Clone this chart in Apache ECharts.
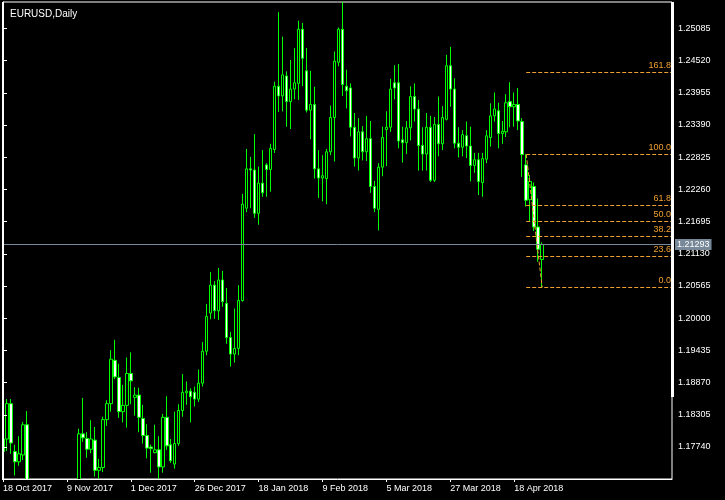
<!DOCTYPE html>
<html>
<head>
<meta charset="utf-8">
<script src="https://cdn.jsdelivr.net/npm/echarts@6/dist/echarts.min.js"></script>
<style>
html,body{margin:0;padding:0;background:#000;}
#chart{width:725px;height:500px;}
</style>
</head>
<body>
<div id="chart"></div>
<script>
// ---- data (EURUSD daily, one entry per trading day from 18 Oct 2017) ----
const startDate = '2017-10-18';
const holidays = ['2017-12-25', '2018-01-01'];
const opens = [1.1766,1.1788,1.1850,1.1766,1.1748,1.1760,1.1813,1.1654,1.1608,1.1647,1.1646,1.1620,1.1656,1.1607,1.1610,1.1596,1.1590,1.1643,1.1664,
 1.1664,1.1797,1.1789,1.1770,1.1786,1.1733,1.1738,1.1822,1.1850,1.1926,1.1896,1.1836,1.1847,1.1903,1.1861,1.1865,1.1824,1.1794,1.1774,1.1764,1.1769,
 1.1739,1.1826,1.1778,1.1744,1.1780,1.1838,1.1869,1.1872,1.1870,1.1858,1.1886,1.1942,1.2009,1.2058,1.2013,1.2067,1.2026,1.1966,1.1937,1.1947,
 1.2031,1.2193,1.2262,1.2260,1.2184,1.2237,1.2269,1.2261,1.2296,1.2407,1.2390,1.2425,1.2380,1.2402,1.2412,1.2507,1.2434,1.2365,1.2375,1.2262,
 1.2246,1.2245,1.2292,1.2352,1.2449,1.2507,1.2407,1.2404,1.2335,1.2281,1.2327,1.2292,1.2315,1.2231,1.2191,1.2265,1.2331,1.2335,1.2413,1.2413,
 1.2313,1.2308,1.2334,1.2389,1.2367,1.2303,1.2288,1.2335,1.2242,1.2340,1.2306,1.2349,1.2443,1.2402,1.2307,1.2300,1.2320,1.2302,1.2268,1.2278,
 1.2238,1.2279,1.2317,1.2355,1.2364,1.2324,1.2327,1.2380,1.2371,1.2375,1.2345,1.2269,1.2208,1.2231,1.2160,1.2103];
const highs = [1.1790,1.1858,1.1858,1.1778,1.1793,1.1818,1.1837,1.1660,1.1668,1.1669,1.1669,1.1688,1.1688,1.1616,1.1614,1.1617,1.1654,1.1670,1.1672,
 1.1806,1.1860,1.1800,1.1821,1.1809,1.1753,1.1827,1.1856,1.1944,1.1962,1.1920,1.1883,1.1931,1.1940,1.1879,1.1878,1.1848,1.1814,1.1778,1.1813,1.1793,
 1.1832,1.1863,1.1788,1.1836,1.1849,1.1902,1.1889,1.1877,1.1880,1.1910,1.1958,1.2025,1.2081,1.2065,1.2088,1.2083,1.2053,1.1976,1.2017,1.2058,
 1.2218,1.2297,1.2283,1.2323,1.2266,1.2295,1.2272,1.2306,1.2415,1.2537,1.2494,1.2433,1.2453,1.2474,1.2522,1.2518,1.2474,1.2434,1.2406,1.2295,
 1.2286,1.2297,1.2373,1.2468,1.2510,1.2555,1.2436,1.2412,1.2360,1.2351,1.2337,1.2355,1.2346,1.2241,1.2272,1.2336,1.2363,1.2420,1.2444,1.2446,
 1.2336,1.2346,1.2407,1.2412,1.2383,1.2335,1.2360,1.2355,1.2353,1.2389,1.2372,1.2462,1.2476,1.2421,1.2335,1.2330,1.2345,1.2336,1.2290,1.2290,
 1.2290,1.2330,1.2377,1.2396,1.2378,1.2346,1.2393,1.2414,1.2396,1.2404,1.2351,1.22876,1.2251,1.2238,1.2210,1.2133];
const lows = [1.1762,1.1767,1.1762,1.1724,1.1741,1.1751,1.1641,1.1574,1.1605,1.1623,1.1606,1.1615,1.1603,1.1555,1.1553,1.1574,1.1585,1.1628,1.1630,
 1.1650,1.1783,1.1755,1.1763,1.1722,1.1712,1.1730,1.1811,1.1836,1.1893,1.1825,1.1817,1.1808,1.1849,1.1829,1.1800,1.1780,1.1754,1.1729,1.1763,1.1717,
 1.1729,1.1769,1.1746,1.1736,1.1776,1.1827,1.1848,1.1817,1.1845,1.1853,1.1880,1.1935,1.1998,1.1999,1.1997,1.2020,1.1955,1.1915,1.1922,1.1935,
 1.2029,1.2186,1.2193,1.2176,1.2164,1.2213,1.2213,1.2222,1.2290,1.2362,1.2363,1.2336,1.2332,1.2384,1.2383,1.2407,1.2361,1.2314,1.2245,1.2211,
 1.2205,1.2200,1.2286,1.2275,1.2442,1.2390,1.2368,1.2319,1.2266,1.2259,1.2277,1.2276,1.2220,1.2186,1.2154,1.2249,1.2267,1.2327,1.2384,1.2298,
 1.2273,1.2288,1.2312,1.2345,1.2259,1.2259,1.2259,1.2239,1.2239,1.2284,1.2295,1.2347,1.2371,1.2298,1.2282,1.2284,1.2281,1.2240,1.2255,1.2216,
 1.2213,1.2272,1.2301,1.2345,1.2298,1.2306,1.2318,1.2335,1.2336,1.2330,1.2248,1.2196,1.2170,1.2153,1.2099,1.20542];
const closes = [1.1788,1.1850,1.1781,1.1748,1.1762,1.1813,1.1654,1.1608,1.1647,1.1646,1.1620,1.1656,1.1607,1.1610,1.1596,1.1590,1.1643,1.1664,1.1664,
 1.1797,1.1790,1.1770,1.1788,1.1733,1.1738,1.1822,1.1850,1.1928,1.1897,1.1836,1.1847,1.1903,1.1890,1.1865,1.1826,1.1794,1.1772,1.1771,1.1769,1.1739,
 1.1826,1.1776,1.1750,1.1780,1.1838,1.1870,1.1872,1.1862,1.1858,1.1886,1.1942,1.2003,1.2058,1.2013,1.2067,1.2029,1.1966,1.1937,1.1947,1.2031,
 1.2200,1.2262,1.2260,1.2184,1.2237,1.2220,1.2261,1.2298,1.2407,1.2390,1.2427,1.2380,1.2402,1.2413,1.2507,1.2456,1.2365,1.2375,1.2262,1.2246,
 1.2250,1.2292,1.2352,1.2451,1.2507,1.2410,1.2399,1.2335,1.2281,1.2327,1.2292,1.2315,1.2231,1.2193,1.2265,1.2317,1.2335,1.2402,1.2404,1.2311,
 1.2308,1.2334,1.2389,1.2367,1.2303,1.2288,1.2335,1.2242,1.2340,1.2306,1.2352,1.2443,1.2402,1.2307,1.2300,1.2322,1.2302,1.2268,1.2278,1.2240,
 1.2280,1.2320,1.2355,1.2367,1.2324,1.2328,1.2378,1.2371,1.2375,1.2346,1.2287,1.2207,1.2240,1.2160,1.2121,1.21293];
const yTicks = [1.17740,1.18305,1.18870,1.19435,1.20000,1.20565,1.21130,1.21695,1.22260,1.22825,1.23390,1.23955,1.24520,1.25085];
const fibRatios = [0, 0.236, 0.382, 0.5, 0.618, 1, 1.618];
const fibFromBar = 131;   // swing high bar
const fibToBar = 135;     // swing low bar
const xLabelStep = 16;
const months = ['Jan','Feb','Mar','Apr','May','Jun','Jul','Aug','Sep','Oct','Nov','Dec'];

// ---- build trading-day calendar ----
const dates = [];
(function(){
  let d = new Date(startDate + 'T00:00:00Z');
  while (dates.length < opens.length) {
    const wd = d.getUTCDay();
    const iso = d.toISOString().slice(0,10);
    if (wd !== 0 && wd !== 6 && holidays.indexOf(iso) < 0) dates.push(new Date(d.getTime()));
    d.setUTCDate(d.getUTCDate() + 1);
  }
})();
function fmtDate(d){ return d.getUTCDate() + ' ' + months[d.getUTCMonth()] + ' ' + d.getUTCFullYear(); }

const candles = opens.map((o,i) => [i, o, closes[i], lows[i], highs[i]]);
const xTickIdx = [];
for (let i = 0; i < opens.length; i += xLabelStep) xTickIdx.push(i);

const fibHigh = highs[fibFromBar];
const fibLow = lows[fibToBar];
const lastClose = closes[closes.length - 1];

const X_MAX = 167.5;   // visible bar slots incl. right-hand chart shift
const Y_MIN = 1.17178, Y_MAX = 1.25548;
const FIB_COLOR = '#F0A030';
const FONT = 'Liberation Sans';

const fibLines = fibRatios.map(r => {
  const lvl = fibLow + r * (fibHigh - fibLow);
  return [
    { coord: [fibFromBar, lvl], label: { formatter: (r * 100).toFixed(1) } },
    { coord: [X_MAX, lvl] }
  ];
});

const chart = echarts.init(document.getElementById('chart'), null, {renderer: 'canvas'});
chart.setOption({
  backgroundColor: '#000',
  animation: false,
  title: {
    text: 'EURUSD,Daily', left: 5, top: 4,
    textStyle: { color: '#fff', fontSize: 10, fontWeight: 'normal', fontFamily: FONT }
  },
  grid: { left: 2, top: 2, right: 53, bottom: 21, show: true, borderColor: '#fff', borderWidth: 1, backgroundColor: '#000' },
  xAxis: {
    type: 'value', min: 0, max: X_MAX, z: 20,
    axisLine: { show: true, lineStyle: { color: '#fff', width: 1 } },
    axisTick: { show: true, length: 3, lineStyle: { color: '#fff' }, customValues: xTickIdx },
    axisLabel: {
      show: true, customValues: xTickIdx, align: 'left', margin: 5,
      color: '#fff', fontSize: 9, fontFamily: FONT,
      formatter: v => { const i = Math.round(v); return dates[i] ? fmtDate(dates[i]) : ''; }
    },
    splitLine: { show: false }
  },
  yAxis: {
    type: 'value', position: 'right', min: Y_MIN, max: Y_MAX, scale: true, z: 20,
    axisLine: { show: true, lineStyle: { color: '#fff', width: 1 } },
    axisTick: { show: true, length: 4, lineStyle: { color: '#fff' }, customValues: yTicks },
    axisLabel: {
      show: true, customValues: yTicks, margin: 6,
      color: '#fff', fontSize: 9, fontFamily: FONT,
      formatter: v => v.toFixed(5)
    },
    splitLine: { show: false }
  },
  graphic: [
    // mask for candle parts falling below the plot area
    { type: 'rect', shape: { x: 0, y: 480, width: 725, height: 20 }, style: { fill: '#000' }, silent: true, z: 10 },
    { type: 'rect', shape: { x: 0, y: 0, width: 2, height: 480 }, style: { fill: '#000' }, silent: true, z: 10 },
    { type: 'rect', shape: { x: 2, y: 2, width: 1, height: 478 }, style: { fill: '#fff' }, silent: true, z: 11 },
    { type: 'rect', shape: { x: 671, y: 2, width: 3, height: 395 }, style: { fill: '#fff' }, silent: true, z: 21 }
  ],
  series: [
    {
      type: 'candlestick',
      data: candles,
      barWidth: 3,
      clip: true,
      itemStyle: {
        color: '#000', color0: '#fff',
        borderColor: '#00FF00', borderColor0: '#00FF00', borderColorDoji: '#00FF00',
        borderWidth: 1
      },
      markLine: {
        silent: true, symbol: 'none', animation: false,
        lineStyle: { color: FIB_COLOR, type: [4, 2], width: 1 },
        label: { show: true, position: 'insideEndTop', color: FIB_COLOR, fontSize: 9, fontFamily: FONT, distance: [1, 2] },
        data: fibLines.concat([
          [ { coord: [fibFromBar, fibHigh], label: { show: false } }, { coord: [fibToBar, fibLow] } ],
          [
            {
              coord: [0, lastClose],
              lineStyle: { color: '#778899', type: 'solid', width: 1 },
              label: {
                show: true, position: 'end', distance: 3,
                formatter: lastClose.toFixed(5),
                color: '#fff', backgroundColor: '#778899', padding: [1, 2, 1, 2],
                fontSize: 9, fontFamily: FONT
              }
            },
            { coord: [X_MAX, lastClose] }
          ]
        ])
      }
    }
  ]
});
</script>
</body>
</html>
